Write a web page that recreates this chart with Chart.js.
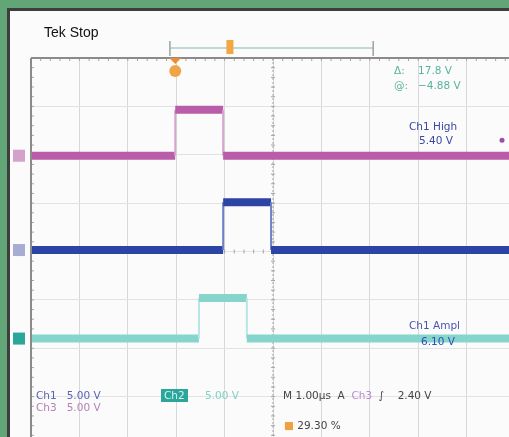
<!DOCTYPE html>
<html>
<head>
<meta charset="utf-8">
<script src="https://cdn.jsdelivr.net/npm/chart.js@4.4.0/dist/chart.umd.min.js"></script>
<style>
  html, body { margin: 0; padding: 0; width: 509px; height: 437px; overflow: hidden; background: #62a677; }
  #screen { position: absolute; left: 7px; top: 8px; width: 510px; height: 440px; background: #fbfbfb;
    border-left: 3px solid #3d3f3e; border-top: 3px solid #3d3f3e; }
  #wrap { position: absolute; left: 0; top: 0; width: 560px; height: 480px; }
  .t { position: absolute; font-family: "DejaVu Sans", sans-serif; font-size: 10.5px; white-space: pre; line-height: 1; }
</style>
</head>
<body>
<div id="screen"></div>
<div id="wrap"><canvas id="scope" width="560" height="480"></canvas></div>

<div class="t" style="left:44px;top:25px;font-family:'Liberation Sans',sans-serif;font-size:14px;color:#111;">Tek Stop</div>
<div class="t" style="left:394px;top:65px;color:#58b39e;">Δ:    17.8 V</div>
<div class="t" style="left:394px;top:80px;color:#58b39e;">@:   −4.88 V</div>
<div class="t" style="left:409px;top:121px;color:#3b47a3;">Ch1 High</div>
<div class="t" style="left:419px;top:135px;color:#3b47a3;">5.40 V</div>
<div class="t" style="left:409px;top:320px;color:#4c56b0;">Ch1 Ampl</div>
<div class="t" style="left:421px;top:336px;color:#2f4fb0;">6.10 V</div>
<div class="t" style="left:36px;top:390px;color:#5a63b8;">Ch1   5.00 V</div>
<div class="t" style="left:36px;top:402px;color:#b67fb8;">Ch3   5.00 V</div>
<div class="t" style="left:161px;top:389px;padding:1px 3px;background:#2aa79a;color:#d8f2ef;">Ch2</div>
<div class="t" style="left:205px;top:390px;color:#7fd0c6;">5.00 V</div>
<div class="t" style="left:283px;top:390px;color:#444;">M 1.00µs  A  <span style="color:#b98cd0;">Ch3</span>  ∫    2.40 V</div>
<div class="t" style="left:284px;top:420px;color:#444;"><span style="color:#f0a040;">■</span> 29.30 %</div>

<script>
// time axis in µs, vertical axis in divisions (trace volts / volts per div + position)
const timeTicks = [-5, -4, -3, -2, -1, 0, 1, 2, 3, 4, 5];
const divTicks = [-4, -3, -2, -1, 0, 1, 2, 3, 4];

const ch3Time = [-5, -2.02, -2.02, -1.03, -1.03, 5];
const ch3Volts = [0, 0, 4.75, 4.75, 0, 0];
const ch1Time = [-5, -1.03, -1.03, -0.04, -0.04, 5];
const ch1Volts = [0, 0, 4.95, 4.95, 0, 0];
const ch2Time = [-5, -1.53, -1.53, -0.54, -0.54, 5];
const ch2Volts = [0, 0, 4.2, 4.2, 0, 0];

const voltsPerDiv = 5;
const ch3Pos = 1.98;
const ch1Pos = 0.03;
const ch2Pos = -1.8;

function toPoints(times, volts, pos) {
  return times.map(function (t, i) {
    return { x: t, y: volts[i] / voltsPerDiv + pos };
  });
}

function trace(label, times, volts, pos, color, edge) {
  return {
    label: label,
    data: toPoints(times, volts, pos),
    showLine: true,
    borderColor: color,
    borderWidth: 8,
    pointRadius: 0,
    borderCapStyle: "butt",
    segment: {
      borderWidth: function (c) { return c.p0.parsed.x === c.p1.parsed.x ? 2 : 8; },
      borderColor: function (c) { return c.p0.parsed.x === c.p1.parsed.x ? edge : color; },
    },
  };
}

// center crosshair with minor ticks, frame, record bar and trigger marker
const scopeDecor = {
  id: "scopeDecor",
  beforeDatasetsDraw: function (chart) {
    const c = chart.ctx;
    const xs = chart.scales.x;
    const ys = chart.scales.y;
    const a = chart.chartArea;
    const cx = xs.getPixelForValue(0);
    const cy = ys.getPixelForValue(0);
    c.save();
    c.strokeStyle = "#a5a5a5";
    c.lineWidth = 1;
    c.setLineDash([2, 2]);
    c.beginPath();
    c.moveTo(cx, a.top); c.lineTo(cx, a.bottom);
    c.stroke();
    c.setLineDash([]);
    c.beginPath();
    for (let t = -5; t <= 5.001; t += 0.2) {
      const px = xs.getPixelForValue(t);
      c.moveTo(px, a.top); c.lineTo(px, a.top + 3);
      c.moveTo(px, cy - 2); c.lineTo(px, cy + 2);
    }
    for (let d = -4; d <= 4.001; d += 0.2) {
      const py = ys.getPixelForValue(d);
      c.moveTo(cx - 2, py); c.lineTo(cx + 2, py);
      c.moveTo(a.left, py); c.lineTo(a.left + 3, py);
    }
    c.stroke();
    c.restore();
  },
  afterDatasetsDraw: function (chart) {
    const c = chart.ctx;
    const xs = chart.scales.x;
    const ys = chart.scales.y;
    const a = chart.chartArea;
    c.save();
    // frame
    c.strokeStyle = "#8a8a8a";
    c.lineWidth = 2;
    c.beginPath();
    c.moveTo(a.left, a.top); c.lineTo(a.right, a.top);
    c.moveTo(a.left, a.top); c.lineTo(a.left, a.bottom);
    c.stroke();
    // record bar
    const rb0 = xs.getPixelForValue(-2.13);
    const rb1 = xs.getPixelForValue(2.07);
    c.strokeStyle = "#c3d6d8";
    c.lineWidth = 2;
    c.beginPath();
    c.moveTo(rb0, a.top - 10); c.lineTo(rb1, a.top - 10);
    c.stroke();
    c.strokeStyle = "#9aa4a6";
    c.lineWidth = 1.5;
    c.beginPath();
    c.moveTo(rb0, a.top - 17); c.lineTo(rb0, a.top - 2);
    c.moveTo(rb1, a.top - 17); c.lineTo(rb1, a.top - 2);
    c.stroke();
    c.fillStyle = "#f3a641";
    const rm = xs.getPixelForValue(-0.9);
    c.fillRect(rm - 3, a.top - 18, 7, 14);
    // trigger position marker
    const tp = xs.getPixelForValue(-2.02);
    c.fillStyle = "#e98f3a";
    c.beginPath();
    c.moveTo(tp - 6, a.top); c.lineTo(tp + 6, a.top); c.lineTo(tp, a.top + 6);
    c.fill();
    c.fillStyle = "#f1a447";
    c.beginPath();
    c.arc(tp, a.top + 13, 6, 0, Math.PI * 2);
    c.fill();
    // ground markers
    const marks = [[ch3Pos, "#d4a0cc"], [ch1Pos, "#a7acd2"], [ch2Pos, "#2aa79a"]];
    marks.forEach(function (m) {
      const py = ys.getPixelForValue(m[0]);
      c.fillStyle = m[1];
      c.fillRect(a.left - 18, py - 6, 12, 12);
    });
    c.fillStyle = "#9a4fa6";
    c.beginPath();
    c.arc(502, ys.getPixelForValue(ch3Pos + 0.32), 2.5, 0, Math.PI * 2);
    c.fill();
    c.restore();
  },
};

document.addEventListener("DOMContentLoaded", function () {
  const ctx = document.getElementById("scope").getContext("2d");
  new Chart(ctx, {
    type: "scatter",
    data: {
      datasets: [
        trace("Ch3", ch3Time, ch3Volts, ch3Pos, "#b95ca9", "#d7a6cf"),
        trace("Ch1", ch1Time, ch1Volts, ch1Pos, "#2c45a4", "#6f82c6"),
        trace("Ch2", ch2Time, ch2Volts, ch2Pos, "#86d5cd", "#b8e6e1"),
      ],
    },
    plugins: [scopeDecor],
    options: {
      responsive: false,
      animation: false,
      layout: { padding: { left: 31, top: 58, right: 45, bottom: 35 } },
      plugins: { legend: { display: false }, tooltip: { enabled: false } },
      scales: {
        x: {
          type: "linear", min: -5, max: 5,
          afterBuildTicks: function (s) { s.ticks = timeTicks.map(function (v) { return { value: v }; }); },
          ticks: { display: false },
          border: { display: false },
          grid: { color: "#d8d8d8", lineWidth: 1, drawTicks: false },
        },
        y: {
          type: "linear", min: -4, max: 4,
          afterBuildTicks: function (s) { s.ticks = divTicks.map(function (v) { return { value: v }; }); },
          ticks: { display: false },
          border: { display: false },
          grid: { color: "#e2e2e2", lineWidth: 1, drawTicks: false },
        },
      },
    },
  });
});
</script>
</body>
</html>
